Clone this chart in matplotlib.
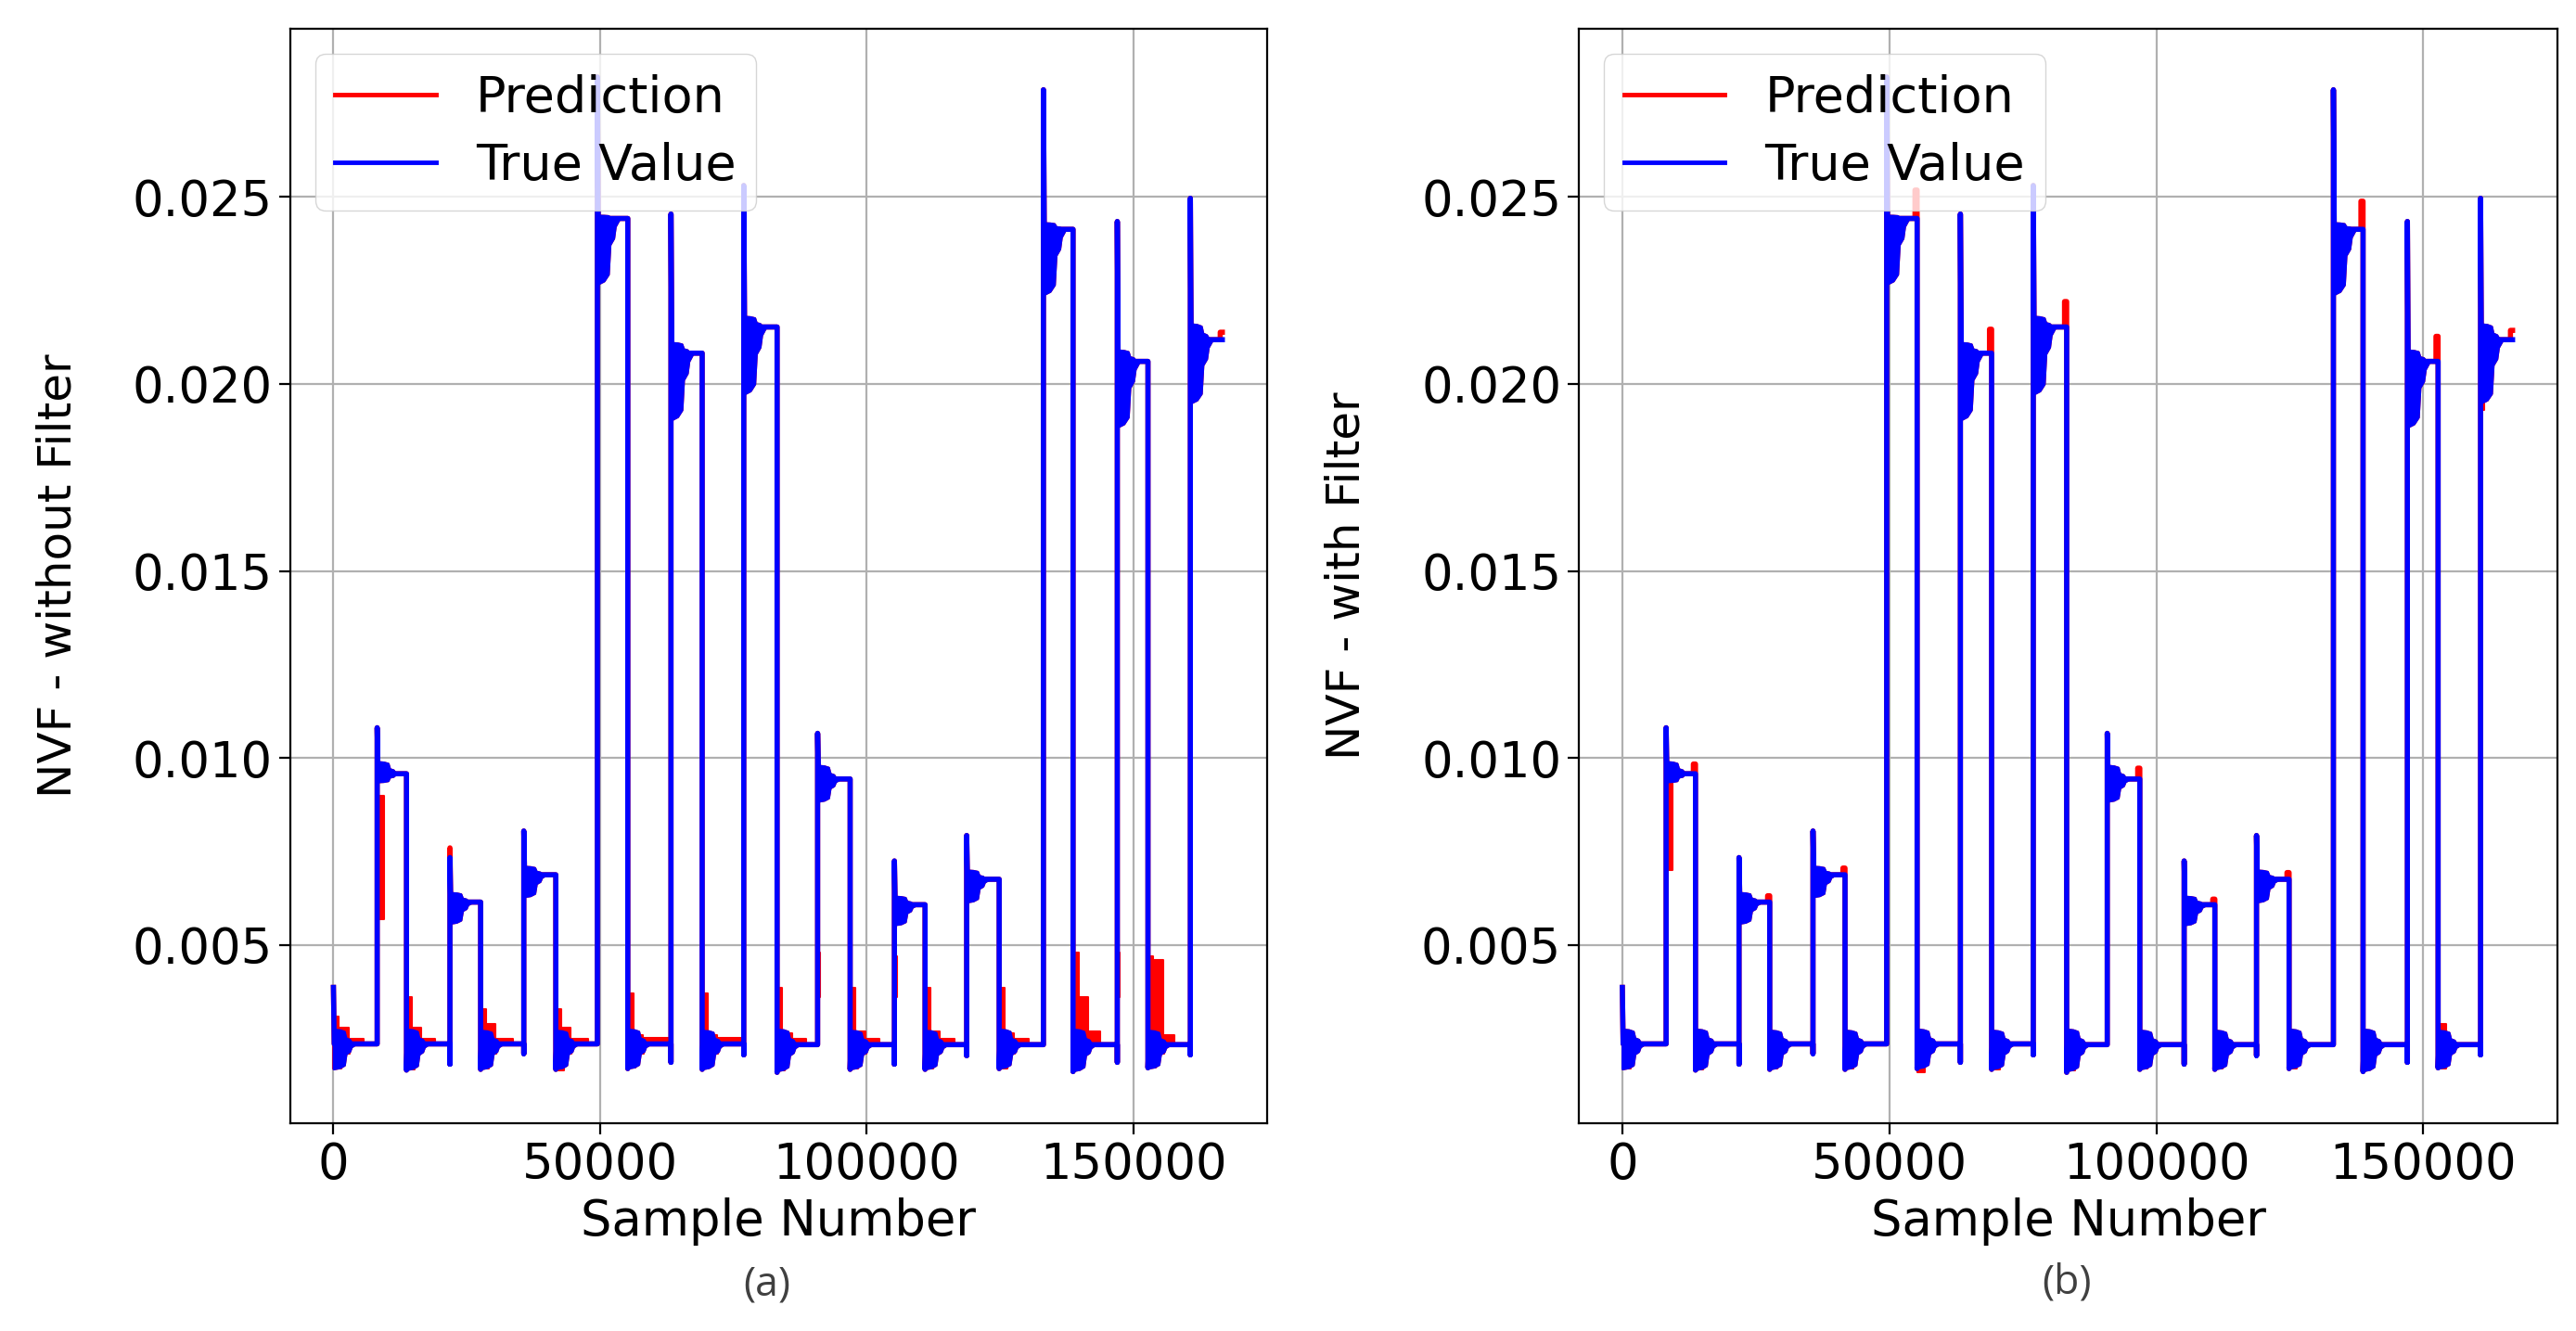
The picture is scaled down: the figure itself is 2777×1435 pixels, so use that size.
import matplotlib
matplotlib.use("Agg")
import matplotlib.pyplot as plt
import numpy as np

# ---------------- data ----------------
seg_start = [0, 8200, 13700, 21850, 27600, 35700, 41700, 49500, 55200, 63300,
             69150, 76950, 83200, 90800, 96900, 105200, 110950, 118750, 124850,
             133150, 138700, 147000, 152750, 160700]
x_last = 166700

true_level = [0.00236, 0.00958, 0.00236, 0.00615, 0.00236, 0.00688, 0.00236, 0.02442,
              0.00236, 0.02082, 0.00236, 0.02152, 0.00234, 0.00944, 0.00234, 0.00608,
              0.00234, 0.00676, 0.00234, 0.02413, 0.00234, 0.02060, 0.00234, 0.02118]
true_spike = [0.00387, 0.01081, 0.00166, 0.00734, 0.00168, 0.00805, 0.00168, 0.02820,
              0.00170, 0.02454, 0.00168, 0.02530, 0.00160, 0.01066, 0.00168, 0.00725,
              0.00168, 0.00793, 0.00170, 0.02786, 0.00162, 0.02434, 0.00172, 0.02496]
ring_low = [0.00170, 0.00937, 0.00168, 0.00559, 0.00170, 0.00630, 0.00170, 0.02267,
            0.00172, 0.01904, 0.00170, 0.01973, 0.00165, 0.00885, 0.00170, 0.00555,
            0.00170, 0.00616, 0.00172, 0.02239, 0.00165, 0.01885, 0.00172, 0.01949]
ring_high = [0.00275, 0.00990, 0.00275, 0.00640, 0.00272, 0.00710, 0.00272, 0.02450,
             0.00275, 0.02110, 0.00272, 0.02180, 0.00275, 0.00980, 0.00272, 0.00630,
             0.00272, 0.00700, 0.00275, 0.02430, 0.00275, 0.02090, 0.00272, 0.02160]
end_dip = [0.00236, 0.00958, 0.00182, 0.00615, 0.00210, 0.00688, 0.00236, 0.02442,
           0.00187, 0.02082, 0.00207, 0.02152, 0.00234, 0.00944, 0.00182, 0.00608,
           0.00205, 0.00676, 0.00234, 0.02413, 0.00187, 0.02060, 0.00207, 0.02118]
# decay of the ringing band after each step (sample offset, share of full swing)
ring_offset = [0, 1200, 2000, 2300, 3000, 3300, 4100]
ring_share = [1.0, 0.95, 0.85, 0.4, 0.3, 0.12, 0.0]

# prediction (a) - without filter: extra band after each falling step (low segments)
pred_a_up0 = [0.0031, 0.0036, 0.0033, 0.0033, 0.0037, 0.0037, 0.00385, 0.00385,
              0.00385, 0.00385, 0.0048, 0.0047]
pred_a_up1 = [0.0028, 0.0028, 0.0029, 0.0028, 0.0026, 0.0026, 0.00265, 0.0027,
              0.0027, 0.00265, 0.0036, 0.0046]
pred_a_up2 = [0.0025, 0.0025, 0.0025, 0.0025, 0.00253, 0.00253, 0.0025, 0.0025,
              0.0025, 0.0025, 0.0027, 0.0026]
pred_a_lo0 = [0.0017, 0.00168, 0.0017, 0.00165, 0.00172, 0.00172, 0.00165, 0.0017,
              0.0017, 0.0017, 0.0017, 0.00172]
pred_a_lo1 = [0.0021, 0.00215, 0.0021, 0.0021, 0.0021, 0.0021, 0.0021, 0.0021,
              0.0021, 0.0021, 0.0021, 0.0021]
pred_a_band_x = [0, 1000, 1500, 2800, 3000]
pred_a_ledge_end = [5600, 5300, 6000, 6000, 7800, 7500, 5500, 5500, 5500, 5500, 5000, 5000]
pred_a_peak_seg = [3]
pred_a_peak_val = [0.0076]
pred_a_lag_seg = [1, 13, 15, 21]
pred_a_lag_lo = [0.0057, 0.0036, 0.0036, 0.0036]
pred_a_lag_hi = [0.0090, 0.0048, 0.0047, 0.0048]
pred_a_lag_x0 = [350, 100, 100, 100]
pred_a_lag_x1 = [1300, 500, 500, 500]
pred_a_end = [0.00958, 0.00615, 0.00688, 0.02442, 0.02082, 0.02152,
              0.00944, 0.00608, 0.00676, 0.02413, 0.02060, 0.02138]

# prediction (b) - with filter
pred_b_end = [0.00984, 0.00632, 0.00706, 0.02518, 0.02146, 0.02220,
              0.00973, 0.00623, 0.00694, 0.02488, 0.02127, 0.02143]
pred_b_lag_seg = [1, 23]
pred_b_lag_lo = [0.0070, 0.0193]
pred_b_lag_hi = [0.0096, 0.0203]
pred_b_lag_x0 = [300, 150]
pred_b_lag_x1 = [1200, 600]
pred_b_lo0 = [0.0017, 0.00168, 0.0017, 0.0017, 0.00160, 0.00168, 0.00165, 0.0017,
              0.0017, 0.0017, 0.00168, 0.0017]
pred_b_up0 = [0.0026, 0.0027, 0.0026, 0.0026, 0.0026, 0.0026, 0.0026, 0.0026,
              0.0026, 0.0026, 0.0026, 0.0029]
pred_b_band_x = [0, 1500]

x_ticks = [0, 50000, 100000, 150000]
y_ticks = [0.005, 0.010, 0.015, 0.020, 0.025]
panel_ylabels = ["NVF - without Filter", "NVF - with Filter"]
panel_tags = ["(a)", "(b)"]

RED = "#ff0000"
BLUE = "#0000ff"
LW = 4.0
END_W = 400
n_seg = len(seg_start)


def seg_end(i):
    return seg_start[i + 1] if i + 1 < n_seg else x_last


def draw_ring(ax, color, z):
    share = np.array(ring_share)
    for i in range(n_seg):
        bx = seg_start[i] + np.array(ring_offset)
        lo = true_level[i] - share * (true_level[i] - ring_low[i])
        hi = true_level[i] + share * (ring_high[i] - true_level[i])
        ax.fill_between(bx, lo, hi, facecolor=color, edgecolor=color, lw=2.0, zorder=z)


fig = plt.figure(figsize=(27.77, 14.35), dpi=100)
ax_a = fig.add_axes([0.11257, 0.15610, 0.37933, 0.82230])
ax_b = fig.add_axes([0.61289, 0.15610, 0.37991, 0.82230])

for p, ax in enumerate([ax_a, ax_b]):
    # ---------- prediction ----------
    spikes = list(true_spike)
    if p == 0:
        for k, v in zip(pred_a_peak_seg, pred_a_peak_val):
            spikes[k] = v
        end_list = pred_a_end
    else:
        end_list = pred_b_end
    end_full = list(true_level)
    for k, i in enumerate(range(1, n_seg, 2)):
        end_full[i] = end_list[k]
    px, py = [], []
    for i in range(n_seg):
        s, e = seg_start[i], seg_end(i)
        px += [s, s + 150]
        py += [spikes[i], true_level[i]]
        if end_full[i] != true_level[i]:
            px += [e - END_W, e - END_W, e]
            py += [true_level[i], end_full[i], end_full[i]]
        else:
            px.append(e)
            py.append(true_level[i])
        if end_dip[i] != true_level[i]:
            px.append(e)
            py.append(end_dip[i])
    line_pred, = ax.plot(px, py, color=RED, lw=LW, zorder=2, label="Prediction")
    draw_ring(ax, RED, 2)

    if p == 0:
        for k, i in enumerate(range(0, n_seg, 2)):
            s = seg_start[i]
            bx = s + np.array(pred_a_band_x + [pred_a_ledge_end[k]])
            up = [pred_a_up0[k], pred_a_up1[k], pred_a_up1[k], pred_a_up2[k],
                  pred_a_up2[k], pred_a_up2[k]]
            lo = [pred_a_lo0[k], pred_a_lo0[k], pred_a_lo1[k], pred_a_lo1[k],
                  true_level[i], true_level[i]]
            ax.fill_between(bx, lo, up, step="post", facecolor=RED, edgecolor=RED,
                            lw=1.5, zorder=2)
        lag = zip(pred_a_lag_seg, pred_a_lag_lo, pred_a_lag_hi, pred_a_lag_x0, pred_a_lag_x1)
    else:
        for k, i in enumerate(range(0, n_seg, 2)):
            s = seg_start[i]
            bx = s + np.array(pred_b_band_x)
            ax.fill_between(bx, [pred_b_lo0[k]] * 2, [pred_b_up0[k]] * 2,
                            facecolor=RED, edgecolor=RED, lw=1.5, zorder=2)
        lag = zip(pred_b_lag_seg, pred_b_lag_lo, pred_b_lag_hi, pred_b_lag_x0, pred_b_lag_x1)
    for i, lo, hi, x0, x1 in lag:
        s = seg_start[i]
        ax.fill_between([s + x0, s + x1], [lo, lo], [hi, hi], facecolor=RED,
                        edgecolor=RED, lw=1.5, zorder=2)

    # ---------- true value ----------
    tx, ty = [], []
    for i in range(n_seg):
        s, e = seg_start[i], seg_end(i)
        tx += [s, s + 150, e]
        ty += [true_spike[i], true_level[i], true_level[i]]
        if end_dip[i] != true_level[i]:
            tx.append(e)
            ty.append(end_dip[i])
    line_true, = ax.plot(tx, ty, color=BLUE, lw=LW, zorder=3, label="True Value")
    draw_ring(ax, BLUE, 3)

    # ---------- axes styling ----------
    ax.set_xlim(-8150, 175100)
    ax.set_ylim(0.00024, 0.02949)
    ax.set_xticks(x_ticks)
    ax.set_xticklabels([str(v) for v in x_ticks])
    ax.set_yticks(y_ticks)
    ax.set_yticklabels(["%.3f" % v for v in y_ticks])
    ax.grid(True, color="#b0b0b0", lw=1.6, zorder=0)
    ax.set_axisbelow(True)
    ax.tick_params(axis="both", labelsize=38, length=8.5, width=1.6, pad=5)
    for sp in ax.spines.values():
        sp.set_linewidth(1.6)
    ax.set_xlabel("Sample Number", fontsize=38)
    ax.xaxis.set_label_coords(0.5, -0.068)
    ax.set_ylabel(panel_ylabels[p], fontsize=36)
    ax.yaxis.set_label_coords(-0.215, 0.5)
    leg = ax.legend(handles=[line_pred, line_true], loc="upper left", fontsize=39,
                    framealpha=0.8, edgecolor="#cccccc", handlelength=2.0,
                    labelspacing=0.4, borderpad=0.4, borderaxespad=0.5)
    for h in leg.legend_handles:
        h.set_linewidth(3.5)

fig.text(827 / 2777, 1 - 1385 / 1435, panel_tags[0], ha="center", va="center",
         fontsize=32, family="Open Sans", color="#404040")
fig.text(2228 / 2777, 1 - 1383 / 1435, panel_tags[1], ha="center", va="center",
         fontsize=32, family="Open Sans", color="#404040")

fig.savefig("out.png", dpi=100)
